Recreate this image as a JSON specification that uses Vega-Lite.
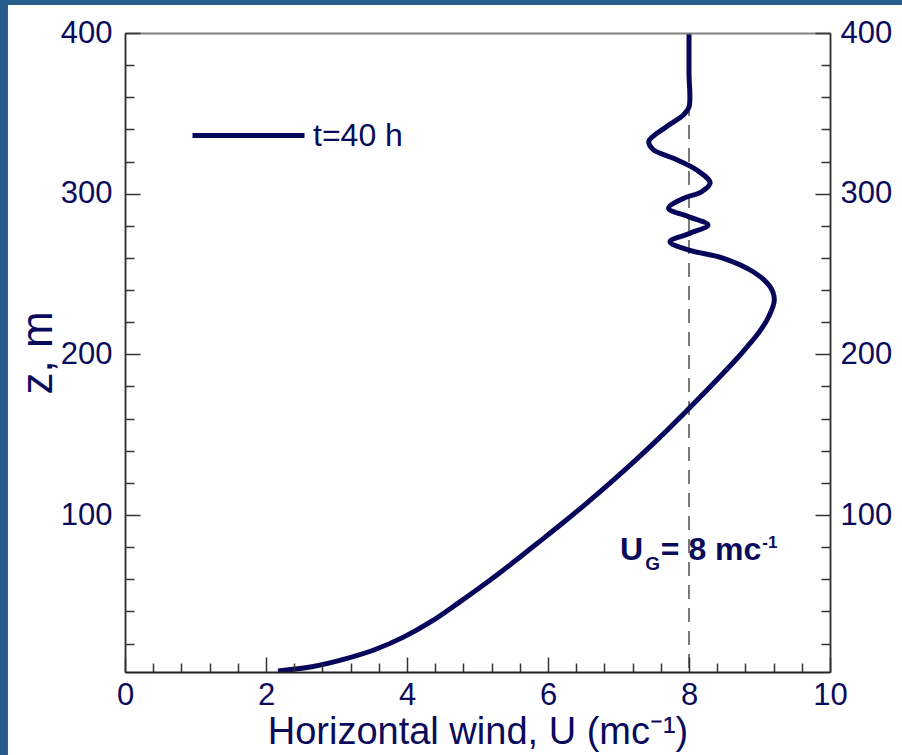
{
  "$schema": "https://vega.github.io/schema/vega-lite/v6.json",
  "width": 705,
  "height": 639,
  "autosize": {"type": "none"},
  "padding": {"left": 125, "top": 33, "right": 72, "bottom": 83},
  "background": "#275d8e",
  "data": {"values": [{}]},
  "config": {
    "view": {"stroke": null},
    "font": "Liberation Sans",
    "axis": {"grid": false, "labelFont": "Liberation Sans", "titleFont": "Liberation Sans", "labelColor": "#0b0b5c", "titleColor": "#0b0b5c", "tickColor": "#333333", "domainColor": "#333333", "tickWidth": 1.5, "domainWidth": 1.5, "labelFlush": false, "labelOverlap": false}
  },
  "datasets": {
    "profile": [
      {"u": 2.17, "z": 3, "series": "t=40 h"},
      {"u": 2.65, "z": 5.6, "series": "t=40 h"},
      {"u": 3.10, "z": 10.2, "series": "t=40 h"},
      {"u": 3.53, "z": 16, "series": "t=40 h"},
      {"u": 3.95, "z": 24, "series": "t=40 h"},
      {"u": 4.34, "z": 33.6, "series": "t=40 h"},
      {"u": 4.72, "z": 45, "series": "t=40 h"},
      {"u": 5.04, "z": 55, "series": "t=40 h"},
      {"u": 5.345, "z": 65, "series": "t=40 h"},
      {"u": 5.635, "z": 75, "series": "t=40 h"},
      {"u": 5.906, "z": 84.4, "series": "t=40 h"},
      {"u": 6.208, "z": 95, "series": "t=40 h"},
      {"u": 6.546, "z": 107.3, "series": "t=40 h"},
      {"u": 6.883, "z": 120, "series": "t=40 h"},
      {"u": 7.219, "z": 133.2, "series": "t=40 h"},
      {"u": 7.579, "z": 148, "series": "t=40 h"},
      {"u": 7.954, "z": 164.3, "series": "t=40 h"},
      {"u": 8.163, "z": 173.6, "series": "t=40 h"},
      {"u": 8.458, "z": 187, "series": "t=40 h"},
      {"u": 8.703, "z": 198.5, "series": "t=40 h"},
      {"u": 8.85, "z": 206, "series": "t=40 h"},
      {"u": 8.99, "z": 213.5, "series": "t=40 h"},
      {"u": 9.13, "z": 223.4, "series": "t=40 h"},
      {"u": 9.21, "z": 233.8, "series": "t=40 h"},
      {"u": 9.15, "z": 242.1, "series": "t=40 h"},
      {"u": 8.91, "z": 251.4, "series": "t=40 h"},
      {"u": 8.49, "z": 259.8, "series": "t=40 h"},
      {"u": 7.99, "z": 265, "series": "t=40 h"},
      {"u": 7.73, "z": 270.1, "series": "t=40 h"},
      {"u": 8.01, "z": 275.3, "series": "t=40 h"},
      {"u": 8.27, "z": 280.5, "series": "t=40 h"},
      {"u": 7.99, "z": 285.7, "series": "t=40 h"},
      {"u": 7.71, "z": 290.9, "series": "t=40 h"},
      {"u": 7.92, "z": 297, "series": "t=40 h"},
      {"u": 8.18, "z": 301.2, "series": "t=40 h"},
      {"u": 8.30, "z": 306.8, "series": "t=40 h"},
      {"u": 8.11, "z": 314.7, "series": "t=40 h"},
      {"u": 7.78, "z": 322, "series": "t=40 h"},
      {"u": 7.49, "z": 327.5, "series": "t=40 h"},
      {"u": 7.43, "z": 332.5, "series": "t=40 h"},
      {"u": 7.68, "z": 341.7, "series": "t=40 h"},
      {"u": 7.92, "z": 349, "series": "t=40 h"},
      {"u": 8.00, "z": 354, "series": "t=40 h"},
      {"u": 8.00, "z": 375, "series": "t=40 h"},
      {"u": 8.00, "z": 400, "series": "t=40 h"}
    ]
  },
  "resolve": {"axis": {"x": "independent", "y": "independent"}},
  "layer": [
    {
      "mark": {"type": "rect", "fill": "white", "stroke": null},
      "encoding": {
        "x": {"datum": -1.66, "type": "quantitative", "scale": {"domain": [0, 10], "nice": false, "zero": false},
              "axis": {"orient": "top", "ticks": false, "labels": false, "title": null, "domainColor": "#808080", "domainWidth": 2, "zindex": 1}},
        "x2": {"datum": 11.2},
        "y": {"datum": 417.4, "type": "quantitative", "scale": {"domain": [2.3, 400], "nice": false, "zero": false}, "axis": null},
        "y2": {"datum": -60}
      }
    },
    {
      "mark": {"type": "rule", "color": "#333333", "strokeWidth": 1.3, "strokeDash": [14, 9]},
      "encoding": {
        "x": {"datum": 8, "type": "quantitative", "scale": {"domain": [0, 10], "nice": false, "zero": false},
              "axis": {"orient": "bottom", "values": [0.4, 0.8, 1.2, 1.6, 2.4, 2.8, 3.2, 3.6, 4.4, 4.8, 5.2, 5.6, 6.4, 6.8, 7.2, 7.6, 8.4, 8.8, 9.2, 9.6], "tickSize": -9, "labels": false, "domain": false, "title": null, "zindex": 1}}
      }
    },
    {
      "data": {"name": "profile"},
      "mark": {"type": "line", "strokeWidth": 5, "interpolate": "catmull-rom", "clip": false},
      "encoding": {
        "x": {"field": "u", "type": "quantitative", "scale": {"domain": [0, 10], "nice": false, "zero": false},
              "axis": {"orient": "bottom", "values": [0, 2, 4, 6, 8, 10], "tickSize": -15, "labelPadding": 23, "labelFontSize": 31, "title": "Horizontal wind, U (mc⁻¹)", "titleFontSize": 38, "titleFontWeight": "normal", "titlePadding": 3, "domainColor": "#222222", "domainWidth": 2, "zindex": 1}},
        "y": {"field": "z", "type": "quantitative", "scale": {"domain": [2.3, 400], "nice": false, "zero": false},
              "axis": {"orient": "left", "values": [100, 200, 300, 400], "tickSize": -15, "labelPadding": 28, "labelFontSize": 31, "title": "z, m", "titleFontSize": 44, "titleFontWeight": "normal", "titlePadding": 0, "zindex": 1}},
        "order": {"field": "z", "type": "quantitative"},
        "color": {"field": "series", "type": "nominal", "scale": {"range": ["#06065a"]},
                  "legend": {"orient": "none", "legendX": 65, "legendY": 44, "title": null, "symbolType": "stroke", "symbolSize": 12544, "symbolStrokeWidth": 5, "labelFontSize": 32, "labelFont": "Liberation Sans", "labelColor": "#0b0b5c", "labelOffset": 6, "padding": 0}}
      }
    },
    {
      "mark": {"type": "text", "text": "U", "fontSize": 32, "fontWeight": "bold", "color": "#0b0b5c", "align": "left", "baseline": "alphabetic"},
      "encoding": {
        "x": {"datum": 7.02, "type": "quantitative", "axis": null},
        "y": {"datum": 72, "type": "quantitative",
              "axis": {"orient": "left", "values": [20, 40, 60, 80, 120, 140, 160, 180, 220, 240, 260, 280, 320, 340, 360, 380], "tickSize": -9, "labels": false, "title": null, "zindex": 1}}
      }
    },
    {
      "mark": {"type": "text", "text": "G", "fontSize": 19, "fontWeight": "bold", "color": "#0b0b5c", "align": "left", "baseline": "alphabetic"},
      "encoding": {
        "x": {"datum": 7.38, "type": "quantitative", "axis": null},
        "y": {"datum": 65.8, "type": "quantitative",
              "axis": {"orient": "right", "values": [100, 200, 300, 400], "tickSize": -15, "labelPadding": 25, "labelFontSize": 31, "title": null, "zindex": 1}}
      }
    },
    {
      "mark": {"type": "text", "text": "= 8 mc", "fontSize": 32, "fontWeight": "bold", "color": "#0b0b5c", "align": "left", "baseline": "alphabetic"},
      "encoding": {
        "x": {"datum": 7.6, "type": "quantitative", "axis": null},
        "y": {"datum": 72, "type": "quantitative",
              "axis": {"orient": "right", "values": [20, 40, 60, 80, 120, 140, 160, 180, 220, 240, 260, 280, 320, 340, 360, 380], "tickSize": -9, "labels": false, "title": null, "zindex": 1}}
      }
    },
    {
      "mark": {"type": "text", "text": "-1", "fontSize": 17, "fontWeight": "bold", "color": "#0b0b5c", "align": "left", "baseline": "alphabetic"},
      "encoding": {
        "x": {"datum": 9.04, "type": "quantitative", "axis": null},
        "y": {"datum": 79.5, "type": "quantitative", "axis": null}
      }
    }
  ]
}
